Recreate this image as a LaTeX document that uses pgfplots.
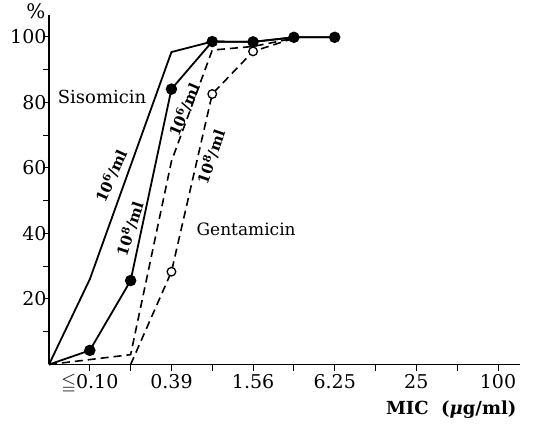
\documentclass[border=0pt]{standalone}
\usepackage{fontspec}
\usepackage{amssymb}
\setmainfont{DejaVu Serif}
\usepackage{pgfplots}
\pgfplotsset{compat=1.18}

\begin{document}
\begin{tikzpicture}
\useasboundingbox (-49pt,-60.5pt) rectangle (486pt,364.5pt);
\begin{axis}[
  at={(0,0)}, anchor=origin,
  scale only axis, width=471pt, height=349.5pt,
  xmin=0, xmax=11.54, ymin=0, ymax=106.6,
  axis x line=bottom, axis y line=left,
  axis line style={-, line width=1.1pt},
  tick align=outside, major tick length=6pt,
  tick style={black, line width=0.9pt},
  xtick={1,...,11},
  xticklabels={$\leqq$0.10,,0.39,,1.56,,6.25,,25,,100},
  ytick={10,20,...,100},
  yticklabels={,20,,40,,60,,80,,100},
  ticklabel style={font=\fontsize{19}{21}\selectfont},
  yticklabel style={xshift=7pt},
  clip=false,
]
% Sisomicin 10^6/ml
\addplot[black, line width=1.8pt, mark=none] coordinates {
  (0,0) (1,26) (3,95.3) (4,98.5) (5,98.4) (6,99.8) (7,99.8)
};
% Sisomicin 10^8/ml
\addplot[black, line width=1.8pt, mark=*, mark size=4.8pt, mark indices={2,...,8}] coordinates {
  (0,0) (1,4.3) (2,25.6) (3,84) (4,98.5) (5,98.4) (6,99.8) (7,99.8)
};
% Gentamicin 10^6/ml
\addplot[black, line width=1.6pt, dash pattern=on 8pt off 5pt, mark=none] coordinates {
  (0,0) (2,3) (3,62) (4,95.9) (5,97) (6,99.5)
};
% Gentamicin 10^8/ml
\addplot[black, line width=1.6pt, dash pattern=on 8pt off 5pt, mark=*, mark size=4.3pt,
  mark options={solid, fill=white, line width=1.3pt}, mark indices={2,3,4}] coordinates {
  (2,0) (3,28.3) (4,82.5) (5,95.5) (6,99.5)
};
\node[font=\fontsize{20}{22}\selectfont] at (axis cs:-0.32,107.6) {\%};
\node[font=\fontsize{18}{20}\selectfont] at (axis cs:1.30,81.6) {Sisomicin};
\node[font=\fontsize{17}{19}\selectfont] at (axis cs:4.83,41.3) {Gentamicin};
\node[font=\fontsize{15}{17}\selectfont\bfseries, rotate=66] at (axis cs:1.52,57.5) {10\textsuperscript{6}/ml};
\node[font=\fontsize{15}{17}\selectfont\bfseries, rotate=72] at (axis cs:1.98,41.4) {10\textsuperscript{8}/ml};
\node[font=\fontsize{15}{17}\selectfont\bfseries, rotate=67] at (axis cs:3.31,77.6) {10\textsuperscript{6}/ml};
\node[font=\fontsize{15}{17}\selectfont\bfseries, rotate=71] at (axis cs:3.97,63.3) {10\textsuperscript{8}/ml};
\node[font=\fontsize{18}{20}\selectfont\bfseries, anchor=east] at (axis cs:11.54,-13.9) {MIC\ \ ({\itshape μ}g/ml)};
\end{axis}
\end{tikzpicture}
\end{document}
